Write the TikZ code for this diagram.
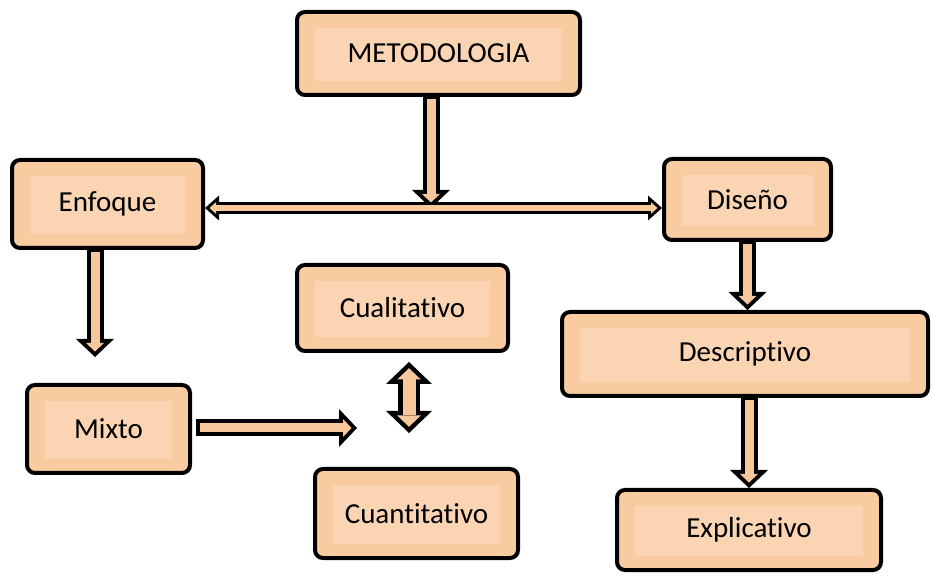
\documentclass[tikz,border=0pt]{standalone}
\usepackage{fontspec}
\setmainfont{Carlito}[Ligatures=NoCommon]
\usepackage{xcolor}
\usetikzlibrary{arrows.meta, positioning, calc}

\definecolor{boxfill}{HTML}{F8CBA0}
\definecolor{boxinner}{HTML}{FAD4B3}
\definecolor{arrowfill}{HTML}{F8C89C}

\tikzset{
	box/.style={draw=black, line width=4pt, rounded corners=8pt, fill=boxfill,
		font=\fontsize{29}{34}\selectfont, align=center,
		path picture={\fill[boxinner, sharp corners]
			($(path picture bounding box.south west)+(18,14)$) rectangle
			($(path picture bounding box.north east)+(-18,-16)$);}},
	flow/.style={draw=black, line width=17pt,
		-{Triangle[width=38pt,length=18pt,line width=0pt]}},
	flow core/.style={draw=arrowfill, line width=9pt, shorten >=5.5pt,
		-{Triangle[width=18pt,length=8.5pt,line width=0pt]}},
	link/.style={draw=black, line width=12pt,
		{Triangle[width=25pt,length=14pt,line width=0pt]}-{Triangle[width=25pt,length=14pt,line width=0pt]}},
	link core/.style={draw=arrowfill, line width=6pt, shorten >=4.5pt, shorten <=4.5pt,
		{Triangle[width=11.6pt,length=6.5pt,line width=0pt]}-{Triangle[width=11.6pt,length=6.5pt,line width=0pt]}},
	both/.style={draw=black, line width=22pt,
		{Triangle[width=46pt,length=22pt,line width=0pt]}-{Triangle[width=46pt,length=22pt,line width=0pt]}},
	both core/.style={draw=arrowfill, line width=13pt, shorten >=6.2pt, shorten <=6.2pt,
		{Triangle[width=23.6pt,length=11.3pt,line width=0pt]}-{Triangle[width=23.6pt,length=11.3pt,line width=0pt]}}
}

\begin{document}
\begin{tikzpicture}[x=1pt,y=1pt]
	\useasboundingbox (0,0) rectangle (932,576);
	
	\node[box, minimum width=283, minimum height=83] (meto) at (438.5,522.5) {METODOLOGIA};
	\node[box, minimum width=191, minimum height=88] (enfoque) at (107.5,372) {Enfoque};
	\node[box, minimum width=167, minimum height=81] (diseno) at (747.5,376.5) {Diseño};
	\node[box, minimum width=163, minimum height=88] (mixto) at (108.5,147) {Mixto};
	\node[box, minimum width=211, minimum height=86] (cuali) at (402.5,268) {Cualitativo};
	\node[box, minimum width=203, minimum height=89] (cuanti) at (416.5,62.5) {Cuantitativo};
	\node[box, minimum width=366, minimum height=84] (descrip) at (745,222) {Descriptivo};
	\node[box, minimum width=264, minimum height=80] (explic) at (749,46) {Explicativo};
	
	\coordinate (hub) at (431,368);
	\coordinate (enfoqueend) at (95,219);
	\coordinate (mixtoend) at (357,148);
	\coordinate (cualiend) at (409,214);
	\coordinate (cuantiend) at (409,143);
	
	% metodologia hacia la linea
	\draw[flow] (meto.south -| hub) -- (hub);
	\draw[flow core, shorten <=2pt] (meto.south -| hub) -- (hub);
	
	% enfoque y diseno
	\draw[link] (enfoque.east |- hub) -- (diseno.west |- hub);
	\draw[link core] (enfoque.east |- hub) -- (diseno.west |- hub);
	
	\draw[flow] (enfoque.south -| enfoqueend) -- (enfoqueend);
	\draw[flow core, shorten <=2pt] (enfoque.south -| enfoqueend) -- (enfoqueend);
	
	\draw[flow, shorten <=4pt] (mixto.east |- mixtoend) -- (mixtoend);
	\draw[flow core, shorten <=8pt] (mixto.east |- mixtoend) -- (mixtoend);
	
	\draw[both] (cualiend) -- (cuantiend);
	\draw[both core] (cualiend) -- (cuantiend);
	
	\draw[flow] (diseno.south) -- (diseno.south |- descrip.north);
	\draw[flow core, shorten <=2pt] (diseno.south) -- (diseno.south |- descrip.north);
	
	\draw[flow] (explic.north |- descrip.south) -- (explic.north);
	\draw[flow core, shorten <=2pt] (explic.north |- descrip.south) -- (explic.north);
\end{tikzpicture}
\end{document}
